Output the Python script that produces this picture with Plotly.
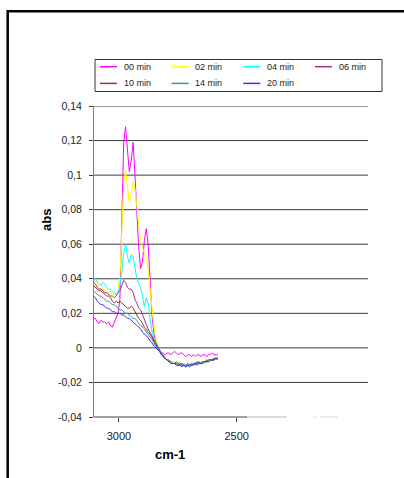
import plotly.graph_objects as go

# ---------------- data ----------------
wavenumber = [3108, 3100, 3092, 3084, 3076, 3068, 3060, 3052, 3044, 3036, 3028, 3020, 3012, 3004,
              2996, 2988, 2980, 2972, 2964, 2956, 2948, 2940, 2932, 2924, 2916, 2908, 2900, 2892,
              2884, 2876, 2868, 2860, 2852, 2844, 2836, 2828, 2820, 2812, 2804, 2796, 2788, 2780,
              2772, 2764, 2756, 2748, 2740, 2732, 2724, 2716, 2708, 2700, 2692, 2684, 2676, 2668,
              2660, 2652, 2644, 2636, 2628, 2620, 2612, 2604, 2596, 2588, 2580]

abs_00 = [0.017, 0.017, 0.015, 0.014, 0.016, 0.015, 0.015, 0.014, 0.015, 0.013, 0.012, 0.015, 0.018, 0.020,
          0.028, 0.075, 0.118, 0.128, 0.115, 0.102, 0.108, 0.119, 0.100, 0.078, 0.058, 0.046, 0.050, 0.062,
          0.069, 0.060, 0.038, 0.020, 0.009, 0.003,
          0.000, -0.002, -0.003, -0.003, -0.004, -0.003, -0.003, -0.004, -0.003, -0.002, -0.003, -0.004,
          -0.003, -0.003, -0.004, -0.005, -0.004, -0.004, -0.005, -0.004, -0.005, -0.004, -0.004, -0.005,
          -0.004, -0.004, -0.005, -0.004, -0.004, -0.003, -0.004, -0.004, -0.004]

abs_02 = [0.040, 0.039, 0.037, 0.035, 0.034, 0.034, 0.033, 0.033, 0.032, 0.033, 0.031, 0.031, 0.032, 0.034,
          0.040, 0.070, 0.095, 0.103, 0.092, 0.084, 0.089, 0.096, 0.092, 0.082, 0.068, 0.062, 0.058, 0.055,
          0.052, 0.045, 0.033, 0.022, 0.013, 0.006,
          0.001, -0.002, -0.004, -0.005, -0.006, -0.007, -0.007, -0.008, -0.008, -0.008, -0.009, -0.008,
          -0.009, -0.009, -0.009, -0.010, -0.009, -0.009, -0.010, -0.009, -0.009, -0.008, -0.009, -0.008,
          -0.008, -0.008, -0.007, -0.007, -0.007, -0.006, -0.007, -0.006, -0.006]

abs_04 = [0.041, 0.040, 0.038, 0.037, 0.036, 0.038, 0.037, 0.035, 0.034, 0.034, 0.033, 0.032, 0.031, 0.032,
          0.036, 0.044, 0.055, 0.060, 0.053, 0.049, 0.054, 0.053, 0.046, 0.040, 0.037, 0.035, 0.030, 0.024,
          0.029, 0.026, 0.017, 0.010, 0.006, 0.003,
          0.001, -0.001, -0.003, -0.005, -0.006, -0.007, -0.008, -0.008, -0.009, -0.009, -0.009, -0.010,
          -0.009, -0.010, -0.010, -0.010, -0.011, -0.010, -0.010, -0.009, -0.009, -0.009, -0.008, -0.009,
          -0.008, -0.008, -0.008, -0.007, -0.007, -0.007, -0.006, -0.007, -0.006]

abs_06 = [0.038, 0.037, 0.035, 0.034, 0.034, 0.033, 0.032, 0.032, 0.031, 0.030, 0.030, 0.029, 0.030, 0.032,
          0.033, 0.036, 0.039, 0.038, 0.035, 0.034, 0.034, 0.032, 0.028, 0.026, 0.023, 0.022, 0.019, 0.017,
          0.014, 0.011, 0.009, 0.007, 0.005, 0.003,
          0.001, -0.001, -0.003, -0.004, -0.006, -0.007, -0.007, -0.008, -0.009, -0.009, -0.008, -0.009,
          -0.010, -0.009, -0.010, -0.010, -0.009, -0.010, -0.010, -0.009, -0.009, -0.008, -0.009, -0.009,
          -0.008, -0.008, -0.007, -0.008, -0.007, -0.007, -0.006, -0.006, -0.006]

abs_10 = [0.036, 0.035, 0.034, 0.033, 0.033, 0.032, 0.031, 0.030, 0.030, 0.029, 0.027, 0.026, 0.027, 0.026,
          0.027, 0.026, 0.025, 0.024, 0.023, 0.023, 0.024, 0.023, 0.021, 0.019, 0.017, 0.016, 0.014, 0.012,
          0.011, 0.009, 0.008, 0.006, 0.004, 0.002,
          0.000, -0.002, -0.003, -0.005, -0.006, -0.007, -0.008, -0.008, -0.009, -0.009, -0.009, -0.010,
          -0.009, -0.010, -0.010, -0.011, -0.010, -0.010, -0.009, -0.010, -0.009, -0.009, -0.008, -0.009,
          -0.008, -0.008, -0.008, -0.007, -0.007, -0.007, -0.007, -0.006, -0.006]

abs_14 = [0.033, 0.032, 0.031, 0.030, 0.030, 0.029, 0.028, 0.027, 0.027, 0.026, 0.025, 0.025, 0.024, 0.023,
          0.022, 0.022, 0.021, 0.020, 0.020, 0.019, 0.018, 0.017, 0.017, 0.016, 0.014, 0.013, 0.012, 0.011,
          0.009, 0.008, 0.006, 0.005, 0.003, 0.001,
          0.000, -0.002, -0.003, -0.005, -0.006, -0.007, -0.008, -0.008, -0.009, -0.009, -0.010, -0.009,
          -0.010, -0.010, -0.010, -0.011, -0.010, -0.010, -0.010, -0.009, -0.010, -0.009, -0.009, -0.009,
          -0.008, -0.008, -0.008, -0.008, -0.007, -0.007, -0.007, -0.006, -0.006]

abs_20 = [0.030, 0.029, 0.027, 0.026, 0.025, 0.025, 0.024, 0.023, 0.023, 0.022, 0.021, 0.021, 0.020, 0.020,
          0.020, 0.019, 0.019, 0.018, 0.017, 0.017, 0.016, 0.015, 0.014, 0.013, 0.012, 0.011, 0.009, 0.008,
          0.007, 0.006, 0.004, 0.003, 0.001, 0.000,
          -0.001, -0.002, -0.004, -0.005, -0.006, -0.007, -0.008, -0.009, -0.009, -0.009, -0.010, -0.010,
          -0.010, -0.011, -0.010, -0.011, -0.010, -0.011, -0.010, -0.010, -0.009, -0.010, -0.009, -0.009,
          -0.009, -0.008, -0.008, -0.008, -0.007, -0.007, -0.007, -0.006, -0.007]

series_names = ["00 min", "02 min", "04 min", "06 min", "10 min", "14 min", "20 min"]
series_values = [abs_00, abs_02, abs_04, abs_06, abs_10, abs_14, abs_20]
series_colors = ["#FF00FF", "#FFFF00", "#00FFFF", "#993399", "#993333", "#339999", "#3333FF"]

y_tick_vals = [-0.04, -0.02, 0, 0.02, 0.04, 0.06, 0.08, 0.1, 0.12, 0.14]
y_tick_text = ["-0,04", "-0,02", "0", "0,02", "0,04", "0,06", "0,08", "0,1", "0,12", "0,14"]
x_tick_vals = [3000, 2500]
x_tick_text = ["3000", "2500"]

# ---------------- layout geometry ----------------
W, H = 404, 478
L, R, T, B = 94, 36, 106, 61
PW, PH = W - L - R, H - T - B
FONT = "Liberation Sans, Arial, sans-serif"


def px(xp):
    return (xp - L) / PW


def py(yp):
    return (T + PH - yp) / PH


fig = go.Figure()
for name, vals, col in zip(series_names, series_values, series_colors):
    fig.add_trace(go.Scatter(x=wavenumber, y=vals, mode="lines", name=name,
                             line=dict(color=col, width=1), showlegend=False))

# horizontal gridlines (none at the bottom axis)
for v in y_tick_vals[1:]:
    fig.add_hline(y=v, line=dict(color="#3c3c3c", width=1), layer="below")

shapes = []
# x axis line (dark part and faint fragments)
shapes.append(dict(type="line", xref="paper", yref="paper", x0=0, x1=px(247), y0=0, y1=0,
                   line=dict(color="#404040", width=1)))
shapes.append(dict(type="line", xref="paper", yref="paper", x0=px(247), x1=px(287), y0=0, y1=0,
                   line=dict(color="#b8b8b8", width=1)))
shapes.append(dict(type="line", xref="paper", yref="paper", x0=px(313), x1=px(317), y0=0, y1=0,
                   line=dict(color="#e0e0e0", width=1)))
shapes.append(dict(type="line", xref="paper", yref="paper", x0=px(320), x1=px(338), y0=0, y1=0,
                   line=dict(color="#e0e0e0", width=1)))
# outer frame (top and left)
shapes.append(dict(type="line", xref="paper", yref="paper", x0=px(7.7), x1=px(420), y0=py(11.2), y1=py(11.2),
                   line=dict(color="black", width=2.5)))
shapes.append(dict(type="line", xref="paper", yref="paper", x0=px(7.7), x1=px(7.7), y0=py(10), y1=py(490),
                   line=dict(color="black", width=2.5)))
# legend box
shapes.append(dict(type="rect", xref="paper", yref="paper", x0=px(95), x1=px(382), y0=py(59.5), y1=py(91.5),
                   line=dict(color="#333333", width=1), fillcolor="rgba(0,0,0,0)"))

annotations = []
for i, (name, col) in enumerate(zip(series_names, series_colors)):
    row, colno = divmod(i, 4)
    x0 = 100 + colno * 71.67
    yy = 66.7 + row * 16.7
    shapes.append(dict(type="line", xref="paper", yref="paper", x0=px(x0), x1=px(x0 + 17),
                       y0=py(yy), y1=py(yy), line=dict(color=col, width=1.5)))
    annotations.append(dict(text=name, xref="paper", yref="paper", x=px(x0 + 21.7), y=py(yy),
                            xanchor="left", yanchor="middle", showarrow=False,
                            font=dict(family=FONT, size=9, color="#222")))

annotations.append(dict(text="<b>abs</b>", xref="paper", yref="paper", x=px(46), y=py(220),
                        textangle=-90, showarrow=False, xanchor="center", yanchor="middle",
                        font=dict(family=FONT, size=13, color="black")))
annotations.append(dict(text="<b>cm-1</b>", xref="paper", yref="paper", x=px(170), y=py(454),
                        showarrow=False, xanchor="center", yanchor="middle",
                        font=dict(family=FONT, size=13, color="black")))

fig.update_layout(
    width=W, height=H, autosize=False,
    margin=dict(l=L, r=R, t=T, b=B, autoexpand=False),
    paper_bgcolor="white", plot_bgcolor="white",
    showlegend=False,
    shapes=fig.layout.shapes + tuple(shapes) if fig.layout.shapes else shapes,
    annotations=annotations,
    xaxis=dict(range=[3106, 1942], tickvals=x_tick_vals, ticktext=x_tick_text,
               ticks="outside", ticklen=4, tickcolor="#404040", showgrid=False, zeroline=False,
               showline=False, tickfont=dict(family=FONT, size=11, color="#222"),
               ticklabelstandoff=5),
    yaxis=dict(range=[-0.04, 0.14], tickvals=y_tick_vals, ticktext=y_tick_text,
               ticks="outside", ticklen=4, tickcolor="#404040", showgrid=False, zeroline=False,
               showline=True, linecolor="#808080", linewidth=1,
               tickfont=dict(family=FONT, size=10.5, color="#222"), ticklabelstandoff=5),
)

fig.write_html("out.html")
